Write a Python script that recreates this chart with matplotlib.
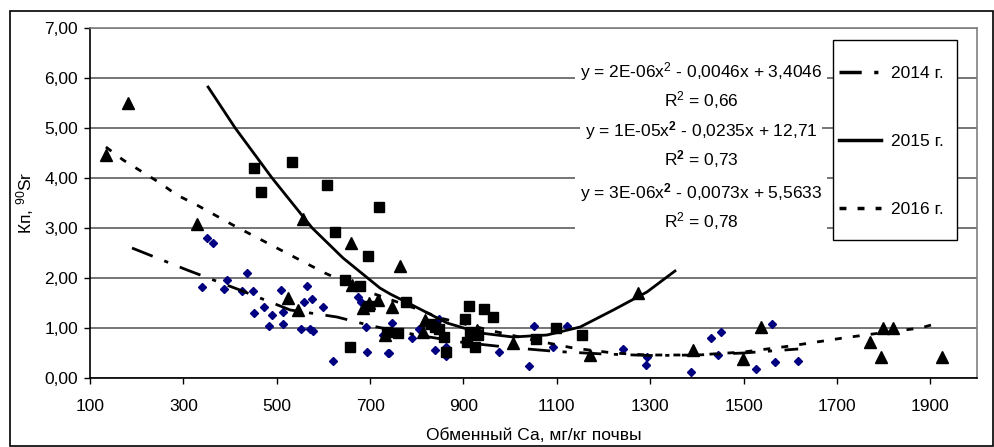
import matplotlib
matplotlib.use("Agg")
import matplotlib.pyplot as plt
from matplotlib.lines import Line2D
from matplotlib.patches import Rectangle

plt.rcParams['font.family'] = ['Liberation Sans', 'DejaVu Sans']
plt.rcParams['mathtext.fontset'] = 'custom'
plt.rcParams['mathtext.rm'] = 'Liberation Sans'
plt.rcParams['mathtext.it'] = 'Liberation Sans'
plt.rcParams['mathtext.bf'] = 'Liberation Sans:bold'
plt.rcParams['lines.scale_dashes'] = False

# ---- data ----
x14 = [351, 363, 436, 394, 340, 387, 425, 449, 509, 565, 473, 451, 490, 514, 559, 576, 599, 484, 514, 552,
       571, 578, 621, 674, 681, 692, 694, 738, 728, 747, 741, 790, 805, 848, 839, 863, 863, 976, 1041, 1051,
       1092, 1122, 1242, 1293, 1291, 1388, 1430, 1452, 1445, 1527, 1561, 1568, 1617]
y14 = [2.80, 2.70, 2.10, 1.96, 1.82, 1.78, 1.74, 1.74, 1.76, 1.84, 1.42, 1.30, 1.26, 1.32, 1.52, 1.58, 1.42, 1.04, 1.08, 0.98,
       0.98, 0.94, 0.34, 1.62, 1.52, 1.02, 0.52, 0.50, 0.86, 1.10, 0.50, 0.80, 0.98, 1.18, 0.56, 0.62, 0.44, 0.52, 0.24, 1.04,
       0.62, 1.04, 0.58, 0.42, 0.26, 0.12, 0.80, 0.92, 0.46, 0.18, 1.08, 0.32, 0.34]

x15 = [451, 533, 466, 608, 719, 625, 696, 646, 679, 698, 657, 736, 777, 760, 839, 858, 863, 912, 944, 964,
       903, 914, 908, 925, 931, 1099, 1154, 1056, 830, 848]
y15 = [4.20, 4.32, 3.72, 3.86, 3.42, 2.92, 2.44, 1.96, 1.84, 1.44, 0.62, 0.92, 1.52, 0.90, 1.02, 0.82, 0.52, 1.44, 1.38, 1.22,
       1.18, 0.92, 0.72, 0.62, 0.86, 1.00, 0.86, 0.78, 1.08, 0.98]

x16 = [181, 134, 329, 556, 659, 661, 524, 546, 685, 698, 717, 732, 764, 747, 818, 814, 929, 1006, 1171, 1274,
       1392, 1499, 1538, 1771, 1799, 1820, 1795, 1924]
y16 = [5.50, 4.46, 3.08, 3.18, 2.70, 1.86, 1.60, 1.36, 1.40, 1.50, 1.56, 0.86, 2.24, 1.42, 1.16, 0.92, 0.96, 0.70, 0.46, 1.70,
       0.56, 0.38, 1.02, 0.72, 1.00, 1.00, 0.42, 0.42]

# trend lines
t14_x = [190, 308, 421, 529, 629, 704, 800, 900, 1000, 1100, 1200, 1300, 1400, 1500, 1617]
t14_y = [2.60, 2.16, 1.76, 1.36, 1.22, 1.04, 0.86, 0.71, 0.61, 0.53, 0.48, 0.45, 0.46, 0.50, 0.58]
t15_x = [353, 411, 490, 576, 642, 721, 743, 792, 865, 936, 1006, 1079, 1150, 1221, 1293, 1353]
t15_y = [5.82, 5.00, 4.00, 3.00, 2.40, 1.80, 1.68, 1.45, 1.10, 0.90, 0.82, 0.86, 1.02, 1.36, 1.72, 2.14]
t16_x = [134, 171, 250, 286, 325, 406, 529, 603, 685, 807, 850, 972, 1049, 1135, 1221, 1293, 1400, 1500, 1600,
         1713, 1793, 1879, 1917]
t16_y = [4.62, 4.36, 3.90, 3.66, 3.48, 3.06, 2.46, 2.10, 1.76, 1.36, 1.20, 0.92, 0.76, 0.60, 0.50, 0.46, 0.46, 0.52, 0.64,
         0.80, 0.90, 1.00, 1.10]

series_labels = ['2014 г.', '2015 г.', '2016 г.']
eq_texts = ['y = 2E-06x$^{2}$ - 0,0046x + 3,4046\nR$^{2}$ = 0,66',
            'y = 1E-05x$^{\\mathbf{2}}$ - 0,0235x + 12,71\nR$^{\\mathbf{2}}$ = 0,73',
            'y = 3E-06x$^{\\mathbf{2}}$ - 0,0073x + 5,5633\nR$^{2}$ = 0,78']
yticks = [0, 1, 2, 3, 4, 5, 6, 7]
ytick_labels = ['0,00', '1,00', '2,00', '3,00', '4,00', '5,00', '6,00', '7,00']
xticks = [100, 300, 500, 700, 900, 1100, 1300, 1500, 1700, 1900]
xlabel = 'Обменный Са, мг/кг почвы'
ylabel = 'Кп, $^{90}$Sr'

# ---- figure ----
W, H = 994, 447
fig = plt.figure(figsize=(W / 100, H / 100), dpi=100)
fig.patches.append(Rectangle((10 / W, 1 / H), 983 / W, 435 / H, transform=fig.transFigure,
                             fill=False, edgecolor='black', linewidth=1.2))
ax = fig.add_axes([90 / W, 1 - 378 / H, (977 - 90) / W, (378 - 28) / H])

ax.set_xlim(100, 2000)
ax.set_ylim(0, 7)
ax.set_yticks(yticks)
ax.set_yticklabels(ytick_labels)
ax.set_xticks(xticks)
ax.set_xticklabels([str(v) for v in xticks])
ax.tick_params(axis='both', labelsize=12.5, direction='out', length=4.5, width=1, color='black')
ax.tick_params(axis='y', pad=4)
ax.tick_params(axis='x', pad=10.5)

for s in ['top', 'right']:
    ax.spines[s].set_color('#808080')
    ax.spines[s].set_linewidth(1.2)
for s in ['left', 'bottom']:
    ax.spines[s].set_color('black')
    ax.spines[s].set_linewidth(1.2)
ax.grid(axis='y', color='#505050', linewidth=1.1)
ax.set_axisbelow(True)

ax.plot(x14, y14, linestyle='none', marker='D', markersize=4.3, color='#000080', zorder=3)
ax.plot(x15, y15, linestyle='none', marker='s', markersize=7.2, color='black', zorder=4)
ax.plot(x16, y16, linestyle='none', marker='^', markersize=8, color='black', zorder=5)

ls14 = (0, (16, 9, 3, 9))
ls16 = (0, (5, 8))
ax.plot(t14_x, t14_y, color='black', linewidth=2, linestyle=ls14, dash_capstyle='butt', zorder=6)
ax.plot(t15_x, t15_y, color='black', linewidth=2, linestyle='-', zorder=6)
ax.plot(t16_x, t16_y, color='black', linewidth=2, linestyle=ls16, dash_capstyle='butt', zorder=6)

# equations
eq_centers = [86, 145, 207]
for txt, yc in zip(eq_texts, eq_centers):
    fig.text(701 / W, 1 - yc / H, txt, ha='center', va='center', fontsize=12.5, multialignment='center',
             linespacing=1.35, zorder=7,
             bbox=dict(boxstyle='square,pad=0.25', facecolor='white', edgecolor='none'))

# legend frame + entries
fig.patches.append(Rectangle((833 / W, 1 - 240 / H), 124 / W, 200 / H, transform=fig.transFigure,
                             facecolor='white', edgecolor='black', linewidth=1.0, zorder=4))
handles = [Line2D([], [], color='black', linewidth=2.5, linestyle=ls14),
           Line2D([], [], color='black', linewidth=2.5, linestyle='-'),
           Line2D([], [], color='black', linewidth=2.5, linestyle=ls16)]
leg = fig.legend(handles, series_labels, loc='upper left', bbox_to_anchor=(839 / W, 1 - 66 / H),
                 fontsize=12.5, frameon=False, borderpad=0, handlelength=2.4, handletextpad=0.6,
                 labelspacing=3.05, borderaxespad=0)
leg.set_zorder(5)

ax.set_xlabel(xlabel, fontsize=12.5, va='center')
ax.xaxis.set_label_coords(0.5, (378 - 436) / 350)
ax.set_ylabel(ylabel, fontsize=12.5, ha='center', va='center')
ax.yaxis.set_label_coords((25 - 90) / 887, 0.5)

fig.savefig('out.png', dpi=100)
